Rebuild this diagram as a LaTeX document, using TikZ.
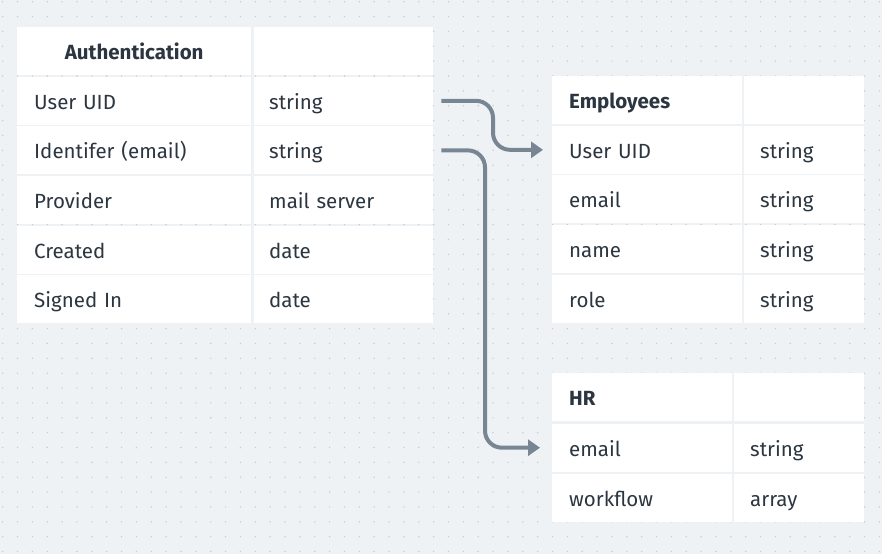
\documentclass[tikz,border=0pt]{standalone}
\usepackage{fontspec}
\setmainfont{Fira Sans}
\usetikzlibrary{arrows.meta}
\definecolor{canvas}{HTML}{EEF2F5}
\definecolor{dotgray}{HTML}{C5CCD6}
\definecolor{ink}{HTML}{2B3640}
\definecolor{wire}{HTML}{788593}
\tikzstyle{cell}=[fill=white, anchor=north west, minimum height=48pt, inner ysep=0pt, text height=17pt, text depth=0pt, align=left, text=ink, font=\fontsize{20.5}{24}\selectfont]
\tikzstyle{head}=[cell, font=\fontsize{20.5}{24}\selectfont\bfseries]
\tikzstyle{conn}=[draw=wire, line width=4pt, rounded corners=17pt, -{Triangle[length=12pt,width=16pt]}]

\begin{document}
\begin{tikzpicture}[x=1pt, y=-1pt]
    \fill[canvas] (0,0) rectangle (882,554);
    \useasboundingbox (0,0) rectangle (882,554);
    \foreach \i in {0,...,59}
        \foreach \j in {0,...,37}
            \fill[dotgray] (2.7+14.86*\i, 1.7+14.86*\j) circle (0.8pt);

    % Authentication table
    \node[head, text width=200pt, inner xsep=17pt, align=center] (auth0-k) at (17,27) {Authentication};
    \node[cell, text width=149pt, inner xsep=15pt] (auth0-v) at (254,27) {};
    \foreach \y/\i/\k/\v in {
                            76.6/1/User UID/string,
                            126.2/2/Identifer (email)/string,
                            175.8/3/Provider/mail server,
                            225.4/4/Created/date,
                            275/5/Signed In/date}
    {
        \node[cell, text width=200pt, inner xsep=17pt] (auth\i-k) at (17,\y) {\k};
        \node[cell, text width=149pt, inner xsep=15pt] (auth\i-v) at (254,\y) {\v};
    }

    % Employees table
    \node[head, text width=156pt, inner xsep=17pt] (emp0-k) at (552,76) {Employees};
    \node[cell, text width=88pt, inner xsep=16pt] (emp0-v) at (744,76) {};
    \foreach \y/\i/\k/\v in {
                            125.6/1/User UID/string,
                            175.2/2/email/string,
                            224.8/3/name/string,
                            274.4/4/role/string}
    {
        \node[cell, text width=156pt, inner xsep=17pt] (emp\i-k) at (552,\y) {\k};
        \node[cell, text width=88pt, inner xsep=16pt] (emp\i-v) at (744,\y) {\v};
    }

    % HR table
    \node[head, text width=146pt, inner xsep=17pt] (hr0-k) at (552,373) {HR};
    \node[cell, text width=98pt, inner xsep=16pt] (hr0-v) at (734,373) {};
    \foreach \y/\i/\k/\v in {
                            423.5/1/email/string,
                            473.5/2/workflow/array}
    {
        \node[cell, text width=146pt, inner xsep=17pt] (hr\i-k) at (552,\y) {\k};
        \node[cell, text width=98pt, inner xsep=16pt] (hr\i-v) at (734,\y) {\v};
    }

    % links between tables
    \draw[conn] ([xshift=8pt]auth1-v.east) -| ([xshift=-59pt]emp1-k.west) -- ([xshift=-9pt]emp1-k.west);
    \draw[conn] ([xshift=8pt]auth2-v.east) -| ([xshift=-67pt]hr1-k.west) -- ([xshift=-12pt]hr1-k.west);

\end{tikzpicture}
\end{document}
